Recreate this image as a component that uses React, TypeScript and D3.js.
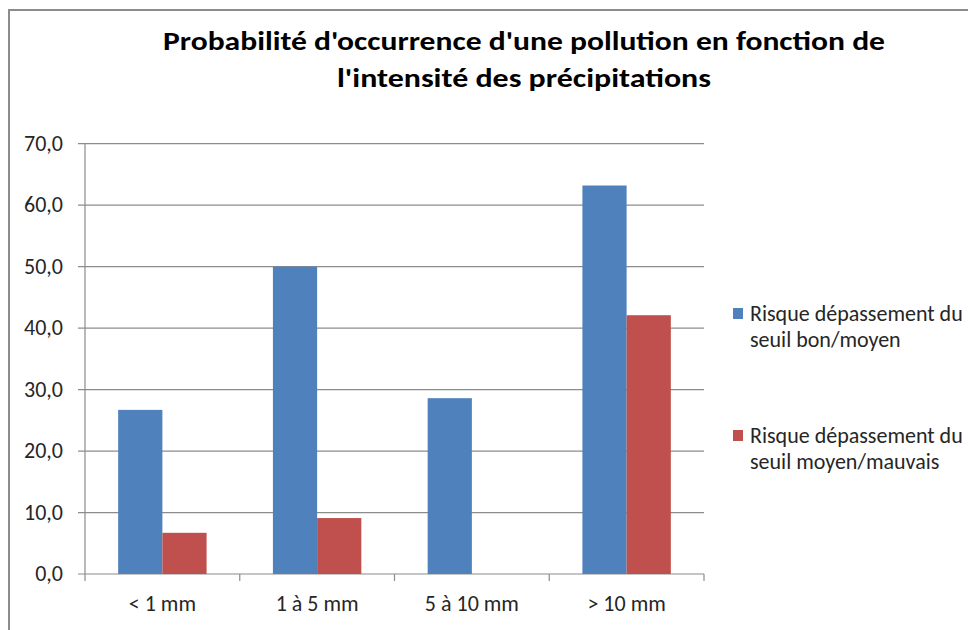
import React from "react";
import * as d3 from "d3";

const categories = ["< 1 mm", "1 à 5 mm", "5 à 10 mm", "> 10 mm"];
const seriesNames = [
  ["Risque dépassement du", "seuil bon/moyen"],
  ["Risque dépassement du", "seuil moyen/mauvais"],
];
const bonMoyen = [26.7, 50.0, 28.6, 63.2];
const moyenMauvais = [6.7, 9.1, 0, 42.1];
const yTicks = [0, 10, 20, 30, 40, 50, 60, 70];
const colors = ["#4F81BD", "#C0504D"];
const titleLines = [
  "Probabilité d'occurrence d'une pollution en fonction de",
  "l'intensité des précipitations",
];

export default function App() {
  const W = 968, H = 630;
  const left = 85, right = 704, top = 143.7, bottom = 574;
  const x0 = d3.scaleBand<string>().domain(categories).range([left, right]).paddingInner(0).paddingOuter(0);
  const y = d3.scaleLinear().domain([0, 70]).range([bottom, top]);
  const bw = x0.bandwidth();
  const barW = bw / 3.5;
  const x1 = d3.scaleBand<number>().domain([0, 1]).range([bw * 0.75 / 3.5, bw - bw * 0.75 / 3.5]);
  const series = [bonMoyen, moyenMauvais];
  const font = "Carlito, Calibri, Lato, sans-serif";
  const fmt = (v: number) => d3.format(".1f")(v).replace(".", ",");
  const txt = "#262626";
  return (
    <svg width={W} height={H} style={{ position: "absolute", left: 0, top: 0, background: "#fff" }} fontFamily={font}>
      <rect x={0} y={0} width={W} height={H} fill="#fff" />
      <rect x={9} y={10} width={W + 20} height={H + 20} fill="none" stroke="#8c8c8c" strokeWidth={2} />
      <text x={524} y={50} textAnchor="middle" fontSize={27} fontWeight="bold" fill="#000" textLength={722} lengthAdjust="spacingAndGlyphs">{titleLines[0]}</text>
      <text x={524} y={87} textAnchor="middle" fontSize={27} fontWeight="bold" fill="#000" textLength={374} lengthAdjust="spacingAndGlyphs">{titleLines[1]}</text>
      {yTicks.map((t) => (
        <g key={t}>
          <line x1={78} x2={right} y1={y(t)} y2={y(t)} stroke="#8c8c8c" strokeWidth={1.2} />
          <text x={63} y={y(t)} dy="0.33em" textAnchor="end" fontSize={22} fill={txt}>{fmt(t)}</text>
        </g>
      ))}
      <line x1={left} x2={left} y1={top} y2={bottom + 7} stroke="#8c8c8c" strokeWidth={1.2} />
      {categories.map((c, i) => (
        <line key={"t" + i} x1={(x0(c) as number) + bw} x2={(x0(c) as number) + bw} y1={bottom} y2={bottom + 7} stroke="#8c8c8c" strokeWidth={1.2} />
      ))}
      {categories.map((c, i) => (
        <g key={c}>
          {series.map((s, k) => (
            <rect key={k} x={(x0(c) as number) + (x1(k) as number)} y={y(s[i])} width={barW} height={bottom - y(s[i])} fill={colors[k]} />
          ))}
          <text x={(x0(c) as number) + bw / 2} y={604} dy="0.33em" textAnchor="middle" fontSize={22} fill={txt}>{c}</text>
        </g>
      ))}
      {seriesNames.map((lines, k) => {
        const ly = k === 0 ? 313.5 : 435.5;
        return (
          <g key={k}>
            <rect x={733} y={ly - 5.5} width={10} height={11} fill={colors[k]} />
            <text x={750} y={ly} dy="0.33em" fontSize={22} fill={txt}>{lines[0]}</text>
            <text x={750} y={ly + 26} dy="0.33em" fontSize={22} fill={txt}>{lines[1]}</text>
          </g>
        );
      })}
    </svg>
  );
}
